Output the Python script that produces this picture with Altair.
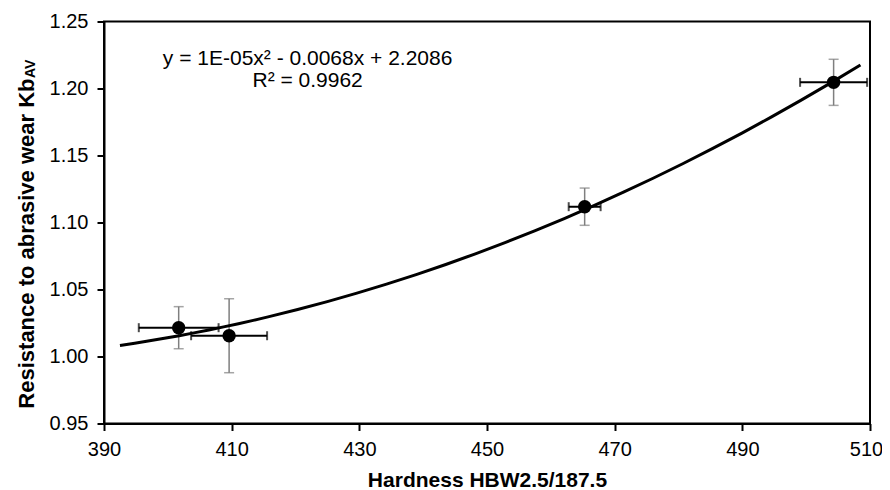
import altair as alt
import pandas as pd

# ---- data ----
hardness = [401.7, 409.6, 465.3, 504.3]
kb_av = [1.0215, 1.0155, 1.1118, 1.2046]
hardness_err = [6.25, 5.95, 2.5, 5.25]
kb_err = [0.0157, 0.0276, 0.0139, 0.0172]

x_ticks = [390, 410, 430, 450, 470, 490, 510]
y_ticks = [0.95, 1.00, 1.05, 1.10, 1.15, 1.20, 1.25]

trend_extent = [392.5, 508.5]
eq_lines = ["y = 1E-05x² - 0.0068x + 2.2086", "R² = 0.9962"]
eq_x = [421.9, 421.9]
eq_y = [1.2175, 1.2013]

FONT = "Liberation Sans"

df = pd.DataFrame({"hb": hardness, "kb": kb_av, "xe": hardness_err, "ye": kb_err})
df["x_lo"] = df["hb"] - df["xe"]
df["x_hi"] = df["hb"] + df["xe"]
df["y_lo"] = df["kb"] - df["ye"]
df["y_hi"] = df["kb"] + df["ye"]

ann = pd.DataFrame({"tx": eq_x, "ty": eq_y, "label": eq_lines})

xs = alt.Scale(domain=[390, 510], nice=False, zero=False)
ys = alt.Scale(domain=[0.95, 1.25], nice=False, zero=False)

xaxis = alt.Axis(
    title="Hardness HBW2.5/187.5", values=x_ticks, format="d",
    labelPadding=9, labelFlush=False,
    labelOffset={"condition": {"test": "datum.value == 510", "value": -4}, "value": 0},
    titleY=63, titleBaseline="alphabetic",
)
yaxis = alt.Axis(
    title="Resistance to abrasive wear Kb", values=y_ticks, format=".2f",
    labelPadding=9, labelFlush=False, titleX=-71, titleY=56.5, titleAlign="right",
    titleBaseline="alphabetic", titleAngle=270, titleFontSize=22,
)

def X(field):
    return alt.X(field, type="quantitative", scale=xs, axis=xaxis)

def Y(field):
    return alt.Y(field, type="quantitative", scale=ys, axis=yaxis)

base = alt.Chart(df)
GREY = "#7f7f7f"

yerr = base.mark_rule(color=GREY, strokeWidth=1.5).encode(x=X("hb"), y=Y("y_lo"), y2="y_hi:Q")
yerr_lo = base.mark_tick(orient="horizontal", color=GREY, size=10, thickness=1.5).encode(x=X("hb"), y=Y("y_lo"))
yerr_hi = base.mark_tick(orient="horizontal", color=GREY, size=10, thickness=1.5).encode(x=X("hb"), y=Y("y_hi"))

xerr = base.mark_rule(color="black", strokeWidth=2).encode(x=X("x_lo"), x2="x_hi:Q", y=Y("kb"))
xerr_lo = base.mark_tick(orient="vertical", color="black", size=9, thickness=2).encode(x=X("x_lo"), y=Y("kb"))
xerr_hi = base.mark_tick(orient="vertical", color="black", size=9, thickness=2).encode(x=X("x_hi"), y=Y("kb"))

trend = base.transform_regression(
    "hb", "kb", method="poly", order=2, extent=trend_extent
).mark_line(color="black", strokeWidth=3).encode(x=X("hb"), y=Y("kb"))

points = base.mark_circle(size=180, color="black", opacity=1).encode(x=X("hb"), y=Y("kb"))

eq_text = alt.Chart(ann).mark_text(
    font=FONT, fontSize=21, color="black", align="center", baseline="alphabetic"
).encode(x=X("tx"), y=Y("ty"), text="label:N")

sub = alt.Chart(pd.DataFrame({"t": ["AV"]})).mark_text(
    font=FONT, fontSize=14, fontWeight="bold", color="black", angle=270,
    align="left", baseline="alphabetic"
).encode(x=alt.value(-69), y=alt.value(56.5), text="t:N")

chart = alt.layer(
    yerr, yerr_lo, yerr_hi, xerr, xerr_lo, xerr_hi, trend, points, eq_text, sub
).properties(
    width=766, height=402,
    autosize=alt.AutoSizeParams(type="none"),
    padding={"left": 96, "top": 13.5, "right": 12, "bottom": 66},
    background="white",
).configure_view(
    stroke="black", strokeWidth=2
).configure_axis(
    grid=False, domainColor="black", domainWidth=2, tickColor="black",
    tickWidth=2, tickSize=7, labelFont=FONT, labelFontSize=20,
    labelColor="black", titleFont=FONT, titleFontSize=21,
    titleFontWeight="bold", titleColor="black",
)

chart.save("out.html", embed_options={"renderer": "svg", "actions": False})
